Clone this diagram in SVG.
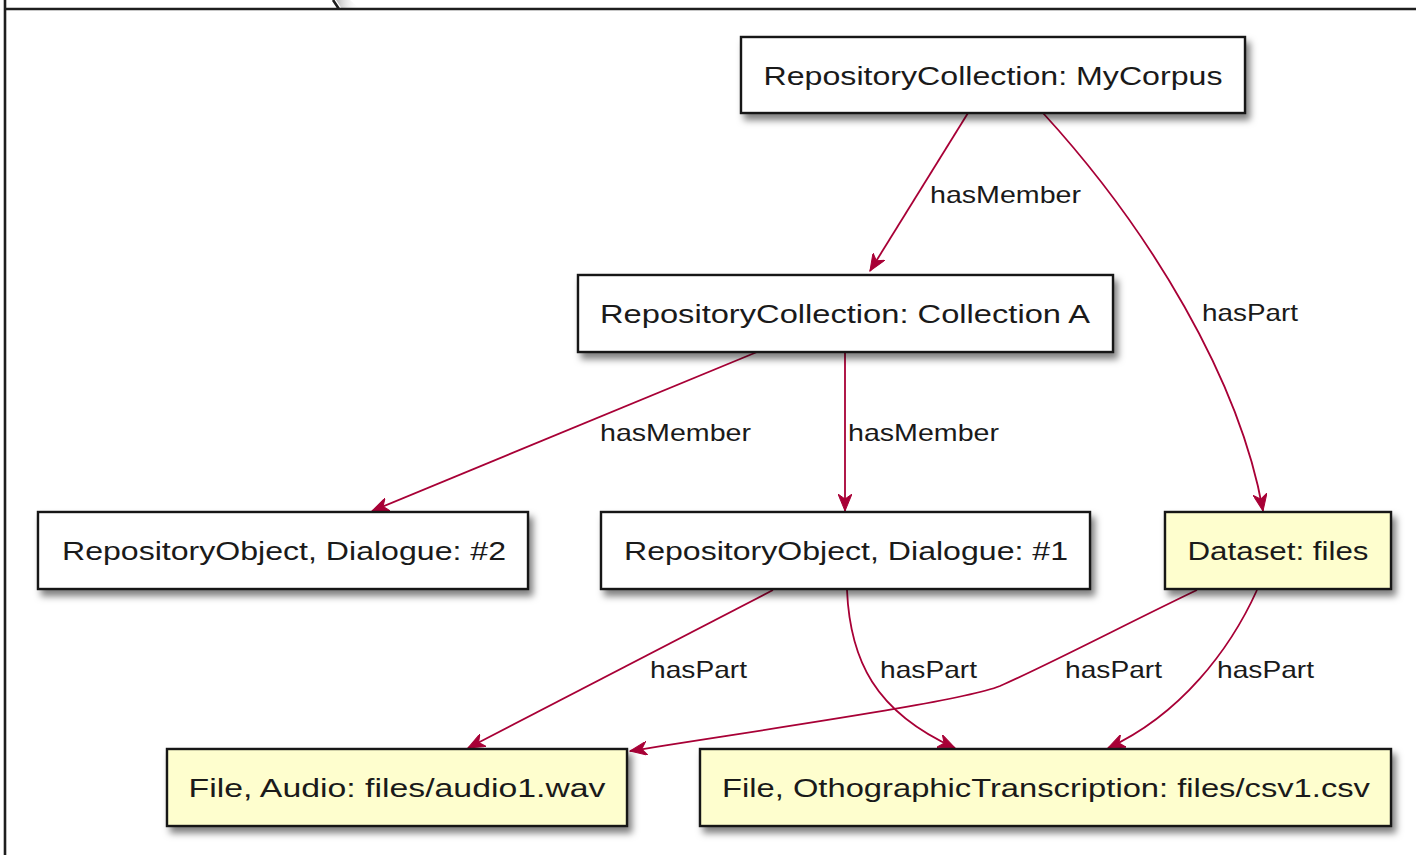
<svg xmlns="http://www.w3.org/2000/svg" width="1416" height="855" viewBox="0 0 1416 855">
<style>
.box{stroke:#181818;stroke-width:2.4;filter:url(#sh)}
.w{fill:#ffffff}
.y{fill:#FEFECE}
.t{font-family:"Liberation Sans",Arial,sans-serif;font-size:25px;fill:#1a1a1a;text-anchor:middle}
.l{font-family:"Liberation Sans",Arial,sans-serif;font-size:24px;fill:#1a1a1a}
.c{fill:none;stroke:#A80036;stroke-width:1.8;marker-end:url(#ah)}
.f{stroke:#1e1e1e;stroke-width:2.6;fill:none}
</style>
<defs>
<filter id="sh" x="-10%" y="-20%" width="130%" height="170%">
<feDropShadow dx="4" dy="6" stdDeviation="3.5" flood-color="#000" flood-opacity="0.5"/>
</filter>
<linearGradient id="tabsh" x1="0" y1="0" x2="1" y2="0">
<stop offset="0" stop-color="#888" stop-opacity="0.6"/>
<stop offset="1" stop-color="#fff" stop-opacity="0"/>
</linearGradient>
<marker id="ah" markerUnits="userSpaceOnUse" viewBox="0 0 18 14" refX="17" refY="7" markerWidth="18" markerHeight="14" orient="auto">
<path d="M0,0 L17,7 L0,14 L5,7 Z" fill="#A80036" stroke="#A80036" stroke-width="1"/>
</marker>
</defs>
<rect width="1416" height="855" fill="#ffffff"/>
<g id="frame">
<path d="M336,0 L342,9 L360,9 L350,0 Z" fill="url(#tabsh)"/>
<path class="f" d="M5,0 L5,855 M5,9 L1416,9 M333,0 L339,9"/>
</g>
<g id="connectors">
<path class="c" d="M968,113 L870,271"/>
<path class="c" d="M1043,113 C1150,230 1240,380 1263,511"/>
<path class="c" d="M757,352 L372,511"/>
<path class="c" d="M845,352 L845,511"/>
<path class="c" d="M773,590 L468,748"/>
<path class="c" d="M847,590 C850,660 875,712 955,748"/>
<path class="c" d="M1197,590 C1130,622 1050,664 1000,686 C960,702 760,730 630,751"/>
<path class="c" d="M1257,590 C1230,650 1180,715 1108,748"/>
<text class="l" x="930" y="203" textLength="151" lengthAdjust="spacingAndGlyphs">hasMember</text>
<text class="l" x="1202" y="321" textLength="96" lengthAdjust="spacingAndGlyphs">hasPart</text>
<text class="l" x="600" y="441" textLength="151" lengthAdjust="spacingAndGlyphs">hasMember</text>
<text class="l" x="848" y="441" textLength="151" lengthAdjust="spacingAndGlyphs">hasMember</text>
<text class="l" x="650" y="678" textLength="97" lengthAdjust="spacingAndGlyphs">hasPart</text>
<text class="l" x="880" y="678" textLength="97" lengthAdjust="spacingAndGlyphs">hasPart</text>
<text class="l" x="1065" y="678" textLength="97" lengthAdjust="spacingAndGlyphs">hasPart</text>
<text class="l" x="1217" y="678" textLength="97" lengthAdjust="spacingAndGlyphs">hasPart</text>
</g>
<g id="mycorpus">
<rect class="box w" x="741" y="37" width="504" height="76"/>
<text class="t" x="993" y="85" textLength="459" lengthAdjust="spacingAndGlyphs">RepositoryCollection: MyCorpus</text>
</g>
<g id="collectionA">
<rect class="box w" x="578" y="275" width="535" height="77"/>
<text class="t" x="845" y="323" textLength="490" lengthAdjust="spacingAndGlyphs">RepositoryCollection: Collection A</text>
</g>
<g id="dialogue2">
<rect class="box w" x="38" y="512" width="490" height="77"/>
<text class="t" x="284" y="560" textLength="444" lengthAdjust="spacingAndGlyphs">RepositoryObject, Dialogue: #2</text>
</g>
<g id="dialogue1">
<rect class="box w" x="601" y="512" width="489" height="77"/>
<text class="t" x="846" y="560" textLength="444" lengthAdjust="spacingAndGlyphs">RepositoryObject, Dialogue: #1</text>
</g>
<g id="dataset">
<rect class="box y" x="1165" y="512" width="226" height="77"/>
<text class="t" x="1278" y="560" textLength="181" lengthAdjust="spacingAndGlyphs">Dataset: files</text>
</g>
<g id="audio">
<rect class="box y" x="167" y="749" width="460" height="77"/>
<text class="t" x="397" y="797" textLength="417" lengthAdjust="spacingAndGlyphs">File, Audio: files/audio1.wav</text>
</g>
<g id="csv">
<rect class="box y" x="700" y="749" width="691" height="77"/>
<text class="t" x="1046" y="797" textLength="648" lengthAdjust="spacingAndGlyphs">File, OthographicTranscription: files/csv1.csv</text>
</g>
</svg>
